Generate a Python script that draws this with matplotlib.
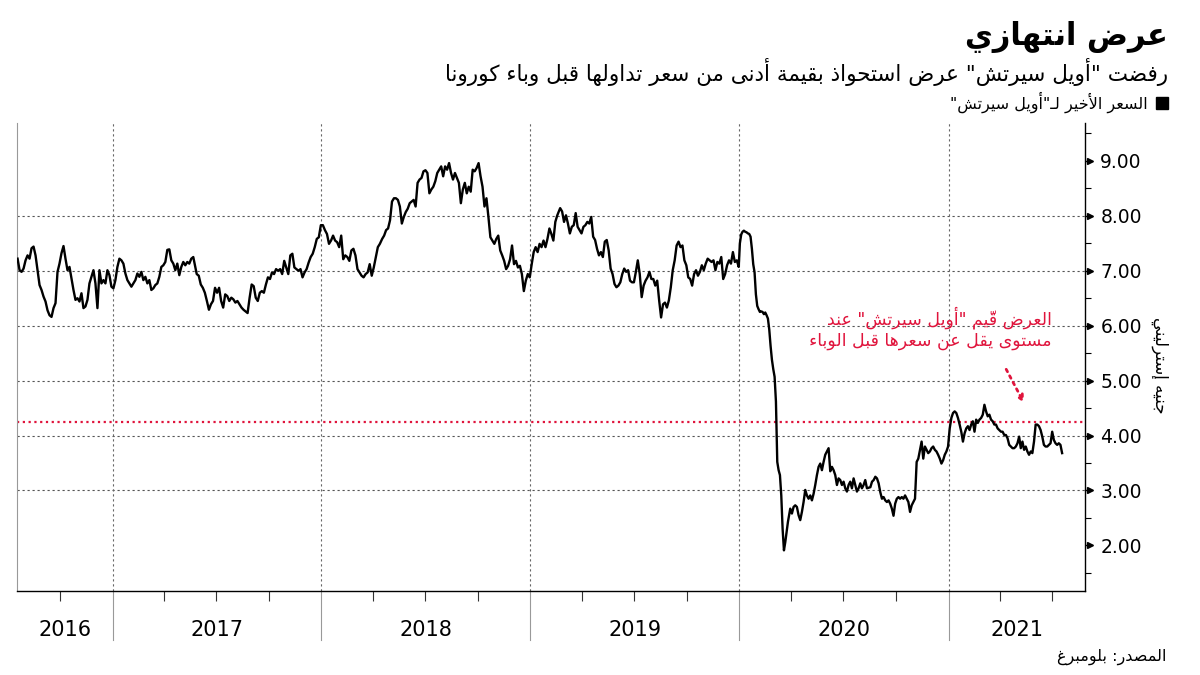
import matplotlib
matplotlib.use("Agg")
import matplotlib.pyplot as plt
import matplotlib.transforms as mtransforms
from matplotlib.patches import Patch
from matplotlib.ticker import FixedLocator
import pandas as pd

# ---- data (Oil Search share price, GBP-equivalent axis as in the source chart) ----
seg1_dates = ("2016-07-19", "2017-05-22")
seg1_price = [7.22, 7.01, 6.98, 7.04, 7.19, 7.28, 7.22, 7.41, 7.44, 7.28, 7.01, 6.74, 6.65, 6.53,
              6.44, 6.28, 6.19, 6.16, 6.32, 6.41, 6.98, 7.13, 7.32, 7.45, 7.22, 7.01, 7.07, 6.86,
              6.65, 6.47, 6.50, 6.44, 6.59, 6.32, 6.35, 6.47, 6.77, 6.89, 7.01, 6.77, 6.32, 7.01,
              6.77, 6.83, 6.77, 7.01, 6.92, 6.71, 6.68, 6.83, 7.07, 7.22, 7.19, 7.13, 6.95, 6.83,
              6.77, 6.71, 6.77, 6.83, 6.95, 6.89, 6.98, 6.83, 6.89, 6.77, 6.83, 6.65, 6.68, 6.74,
              6.77, 6.89, 7.07, 7.10, 7.16, 7.38, 7.39, 7.19, 7.13, 7.01, 7.13, 6.92, 7.07, 7.16,
              7.10, 7.16, 7.13, 7.22, 7.25]

seg2_dates = ("2017-05-28", "2018-04-13")
seg2_price = [6.94, 6.91, 6.75, 6.69, 6.60, 6.45, 6.29, 6.39, 6.45, 6.69, 6.60, 6.69, 6.45, 6.33,
              6.57, 6.54, 6.45, 6.51, 6.48, 6.42, 6.45, 6.39, 6.33, 6.29, 6.26, 6.23, 6.51, 6.75,
              6.72, 6.51, 6.45, 6.60, 6.63, 6.60, 6.75, 6.88, 6.85, 6.97, 6.94, 7.03, 7.00, 7.03,
              6.94, 7.18, 7.06, 6.94, 7.28, 7.31, 7.06, 7.03, 7.00, 7.03, 6.88, 6.97, 7.03, 7.15,
              7.25, 7.31, 7.43, 7.58, 7.61, 7.83, 7.83, 7.74, 7.67, 7.49, 7.55, 7.64, 7.55, 7.52,
              7.43, 7.64, 7.21, 7.28, 7.25, 7.18, 7.37, 7.40, 7.28, 7.03, 6.97, 6.91, 6.88, 6.94,
              6.97, 7.12, 6.91, 7.06, 7.25, 7.43, 7.49]

seg3_dates = ("2018-04-17", "2019-02-17")
seg3_price = [7.58, 7.64, 7.74, 7.77, 7.92, 8.26, 8.32, 8.32, 8.29, 8.17, 7.86, 7.98, 8.07, 8.13,
              8.23, 8.26, 8.29, 8.17, 8.60, 8.66, 8.69, 8.81, 8.83, 8.78, 8.41, 8.48, 8.53, 8.63,
              8.78, 8.84, 8.90, 8.72, 8.90, 8.84, 8.96, 8.78, 8.66, 8.78, 8.69, 8.60, 8.23, 8.48,
              8.60, 8.41, 8.53, 8.44, 8.84, 8.81, 8.87, 8.96, 8.72, 8.53, 8.17, 8.32, 7.98, 7.61,
              7.55, 7.49, 7.58, 7.64, 7.37, 7.28, 7.18, 7.03, 7.09, 7.21, 7.46, 7.12, 7.18, 7.06,
              7.09, 6.94, 6.63, 6.82, 6.94, 6.88, 7.12, 7.34, 7.43, 7.34, 7.49, 7.43, 7.55, 7.43,
              7.58, 7.77, 7.67, 7.55, 7.89, 8.01]

seg4_dates = ("2019-02-22", "2019-12-31")
seg4_price = [8.14, 8.08, 7.89, 8.01, 7.86, 7.68, 7.80, 7.83, 8.05, 7.80, 7.74, 7.68, 7.80, 7.83,
              7.89, 7.86, 7.98, 7.62, 7.56, 7.40, 7.28, 7.34, 7.25, 7.53, 7.56, 7.37, 7.04, 6.94,
              6.76, 6.70, 6.73, 6.79, 6.94, 7.04, 6.98, 7.01, 6.82, 6.79, 6.79, 6.98, 7.19, 6.94,
              6.52, 6.73, 6.82, 6.88, 6.98, 6.85, 6.85, 6.73, 6.82, 6.46, 6.15, 6.39, 6.42, 6.33,
              6.46, 6.70, 7.01, 7.19, 7.46, 7.53, 7.43, 7.46, 7.19, 7.10, 6.88, 6.85, 6.73, 6.94,
              7.01, 6.91, 6.98, 7.10, 7.01, 7.13, 7.22, 7.19, 7.16, 7.19, 7.01, 7.16, 7.13, 7.25,
              6.85, 6.94, 7.10, 7.19, 7.13, 7.34, 7.16, 7.19, 7.07]

seg5_dates = ("2020-01-02", "2020-03-26")
seg5_price = [7.50, 7.66, 7.71, 7.73, 7.71, 7.70, 7.68, 7.67, 7.62, 7.40, 7.12, 6.97, 6.57, 6.36,
              6.30, 6.25, 6.26, 6.25, 6.21, 6.24, 6.19, 6.13, 5.93, 5.63, 5.38, 5.21, 5.07, 4.62,
              3.52, 3.37, 3.28, 2.91, 2.30, 1.91, 2.06, 2.24, 2.43]

seg6_dates = ("2020-03-30", "2020-08-11")
seg6_price = [2.67, 2.58, 2.70, 2.73, 2.70, 2.55, 2.46, 2.61, 2.79, 3.01, 2.91, 2.85, 2.91, 2.82,
              2.94, 3.10, 3.28, 3.43, 3.49, 3.37, 3.52, 3.65, 3.71, 3.77, 3.35, 3.43, 3.37, 3.28,
              3.10, 3.22, 3.19, 3.10, 3.16, 3.04, 2.98, 3.10, 3.16, 3.04, 3.22, 3.10, 2.98, 3.04,
              3.13, 3.04, 3.10, 3.19, 3.04]

seg7_dates = ("2020-08-17", "2021-07-18")
seg7_price = [3.06, 3.16, 3.19, 3.25, 3.22, 3.13, 2.97, 2.85, 2.88, 2.82, 2.79, 2.82, 2.76, 2.67,
              2.54, 2.76, 2.85, 2.88, 2.85, 2.88, 2.85, 2.91, 2.85, 2.79, 2.61, 2.73, 2.79, 2.85,
              3.52, 3.58, 3.74, 3.89, 3.58, 3.80, 3.74, 3.68, 3.71, 3.77, 3.80, 3.74, 3.71, 3.65,
              3.58, 3.49, 3.55, 3.65, 3.71, 3.80, 4.13, 4.32, 4.41, 4.44, 4.41, 4.32, 4.20, 4.07,
              3.89, 4.04, 4.13, 4.17, 4.10, 4.20, 4.26, 4.07, 4.29, 4.23, 4.29, 4.32, 4.38, 4.56,
              4.44, 4.35, 4.38, 4.29, 4.26, 4.20, 4.20, 4.13, 4.10, 4.07, 4.07, 4.01, 4.01, 3.95,
              3.83, 3.80, 3.77, 3.77, 3.80, 3.86, 3.98, 3.77, 3.89, 3.74, 3.80, 3.71, 3.65, 3.71,
              3.68, 3.89, 4.20, 4.20, 4.17, 4.10, 3.98, 3.83, 3.80, 3.80, 3.83, 3.86, 4.07, 3.92,
              3.86, 3.83, 3.86, 3.83, 3.68]

pre_covid_level = 4.24
years = [2016, 2017, 2018, 2019, 2020, 2021]
x_range = ("2016-07-18", "2021-08-27")
y_ticks = [2, 3, 4, 5, 6, 7, 8, 9]

title = "عرض انتهازي"
subtitle = 'رفضت "أويل سيرتش" عرض استحواذ بقيمة أدنى من سعر تداولها قبل وباء كورونا'
legend_label = 'السعر الأخير لـ"أويل سيرتش"'
y_label = "جنيه إسترليني"
note_lines = ['العرض قيّم "أويل سيرتش" عند', "مستوى يقل عن سعرها قبل الوباء"]
source = "المصدر: بلومبرغ"

RED = "#e0143c"

# ---- tiny Arabic shaper (matplotlib has no bidi / joining) ----
_R = {'آ': 0xFE81, 'أ': 0xFE83, 'ؤ': 0xFE85, 'إ': 0xFE87, 'ا': 0xFE8D, 'ة': 0xFE93,
      'د': 0xFEA9, 'ذ': 0xFEAB, 'ر': 0xFEAD, 'ز': 0xFEAF, 'و': 0xFEED, 'ى': 0xFEEF}
_D = {'ئ': 0xFE89, 'ب': 0xFE8F, 'ت': 0xFE95, 'ث': 0xFE99, 'ج': 0xFE9D, 'ح': 0xFEA1,
      'خ': 0xFEA5, 'س': 0xFEB1, 'ش': 0xFEB5, 'ص': 0xFEB9, 'ض': 0xFEBD, 'ط': 0xFEC1,
      'ظ': 0xFEC5, 'ع': 0xFEC9, 'غ': 0xFECD, 'ف': 0xFED1, 'ق': 0xFED5, 'ك': 0xFED9,
      'ل': 0xFEDD, 'م': 0xFEE1, 'ن': 0xFEE5, 'ه': 0xFEE9, 'ي': 0xFEF1}
_LA = {'آ': 0xFEF5, 'أ': 0xFEF7, 'إ': 0xFEF9, 'ا': 0xFEFB}


def ar(text):
    units = []
    i = 0
    while i < len(text):
        c = text[i]
        if 0x064B <= ord(c) <= 0x0652 and units:
            units[-1][2] += c
            i += 1
            continue
        if c == 'ل' and i + 1 < len(text) and text[i + 1] in _LA:
            units.append([c + text[i + 1], 'LA', ''])
            i += 2
            continue
        units.append([c, None, ''])
        i += 1

    def jt(u):
        if u[1] == 'LA':
            return 'R'
        if u[0] in _D or u[0] == 'ـ':
            return 'D'
        if u[0] in _R:
            return 'R'
        return 'U'

    out = []
    for k, u in enumerate(units):
        t = jt(u)
        c = u[0]
        prev_ok = k > 0 and jt(units[k - 1]) == 'D'
        next_ok = t == 'D' and k + 1 < len(units) and jt(units[k + 1]) in ('D', 'R')
        if t == 'U':
            g = '\uFE80' if c == 'ء' else c
        elif c == 'ـ':
            g = c
        elif u[1] == 'LA':
            g = chr(_LA[c[1]] + (1 if prev_ok else 0))
        elif t == 'R':
            g = chr(_R[c] + (1 if prev_ok else 0))
        else:
            base = _D[c]
            if prev_ok and next_ok:
                g = chr(base + 3)
            elif prev_ok:
                g = chr(base + 1)
            elif next_ok:
                g = chr(base + 2)
            else:
                g = chr(base)
        out.append(g + u[2])
    return ''.join(reversed(out))


plt.rcParams['font.family'] = ['DejaVu Sans']

# build the series, each segment spread over its own date span
segments = [(seg1_dates, seg1_price), (seg2_dates, seg2_price), (seg3_dates, seg3_price),
            (seg4_dates, seg4_price), (seg5_dates, seg5_price), (seg6_dates, seg6_price),
            (seg7_dates, seg7_price)]
parts = [pd.Series(p, index=pd.date_range(d[0], d[1], periods=len(p))) for d, p in segments]
price = pd.concat(parts)

fig = plt.figure(figsize=(12, 6.75), dpi=100)
ax = fig.add_axes([17 / 1200, 1 - 591 / 675, 1068 / 1200, 468 / 675])

ax.plot(price.index, price.values, color="black", lw=1.7, zorder=3)
ax.axhline(pre_covid_level, color=RED, lw=1.6, ls=(0, (1, 1.6)), zorder=2)

x0, x1 = pd.Timestamp(x_range[0]), pd.Timestamp(x_range[1])
ax.set_xlim(x0, x1)
ax.set_ylim(1.17, 9.69)

# grid
for v in y_ticks[1:-1]:
    ax.axhline(v, color="#555555", lw=0.8, ls=(0, (2, 2.5)), zorder=1)
sep_trans = mtransforms.blended_transform_factory(ax.transData, ax.transAxes)
for y in years[1:]:
    d = pd.Timestamp(f"{y}-01-01")
    ax.axvline(d, color="#666666", lw=0.8, ls=(0, (2, 2.5)), zorder=1)
    ax.plot([d, d], [0, -0.105], color="#999999", lw=0.8, transform=sep_trans, clip_on=False)

# year labels centred in the visible part of each year
for y in years:
    a = max(pd.Timestamp(f"{y}-01-01"), x0)
    b = min(pd.Timestamp(f"{y + 1}-01-01"), x1)
    ax.text(a + (b - a) / 2, -0.083, str(y), transform=sep_trans, ha="center", va="center",
            fontsize=15, family=["Liberation Sans Narrow", "DejaVu Sans"])

# x ticks: quarterly minors only
ax.set_xticks([])
quarters = [pd.Timestamp(f"{y}-{m:02d}-01") for y in years for m in (4, 7, 10)
            if x0 < pd.Timestamp(f"{y}-{m:02d}-01") < x1]
ax.xaxis.set_minor_locator(FixedLocator(matplotlib.dates.date2num(quarters)))
ax.tick_params(axis="x", which="minor", length=7, width=0.8, color="#333333", direction="out")

# y axis on right
ax.yaxis.tick_right()
ax.set_yticks(y_ticks)
ax.yaxis.set_major_formatter("{x:.2f}")
ax.yaxis.set_minor_locator(FixedLocator([v + 0.5 for v in [1] + y_ticks]))
ax.tick_params(axis="y", which="major", length=5, width=1, labelsize=13.5, pad=6)
ax.tick_params(axis="y", which="minor", length=4, width=0.8)
tri = mtransforms.offset_copy(mtransforms.blended_transform_factory(ax.transAxes, ax.transData),
                              fig=fig, x=5, y=0, units="dots")
ax.plot([1] * len(y_ticks), y_ticks, ls="", marker=">", ms=5, color="black",
        transform=tri, clip_on=False)

ax.spines["top"].set_visible(False)
ax.spines["left"].set_color("#999999")
ax.spines["left"].set_linewidth(0.8)
ax.spines["right"].set_linewidth(1.0)
ax.spines["bottom"].set_linewidth(1.0)

# annotation
ax.text(0.969, 0.562, ar(note_lines[0]) + "\n" + ar(note_lines[1]), transform=ax.transAxes,
        ha="right", va="center", multialignment="right", color=RED, fontsize=12.5,
        linespacing=1.15)
ax.annotate("", xy=(0.944, 0.397), xytext=(0.925, 0.479), xycoords="axes fraction",
            arrowprops=dict(arrowstyle="->", color=RED, lw=2, ls=":"))

# titles, legend, labels
fig.text(1168 / 1200, 1 - 37 / 675, ar(title), ha="right", va="center", fontsize=22,
         fontweight="bold")
fig.text(1168 / 1200, 1 - 72 / 675, ar(subtitle), ha="right", va="center", fontsize=15.5)
fig.legend(handles=[Patch(color="black")], labels=[ar(legend_label)], loc="center right",
           bbox_to_anchor=(1168 / 1200, 1 - 102 / 675), markerfirst=False, frameon=False,
           handlelength=0.75, handleheight=0.75, handletextpad=0.5, borderaxespad=0,
           borderpad=0, fontsize=11.5)
fig.text(1160 / 1200, 1 - 365 / 675, ar(y_label), rotation=270, ha="center", va="center",
         fontsize=12)
fig.text(1166 / 1200, 1 - 657 / 675, ar(source), ha="right", va="center", fontsize=11.5)

fig.savefig("out.png", dpi=100)
